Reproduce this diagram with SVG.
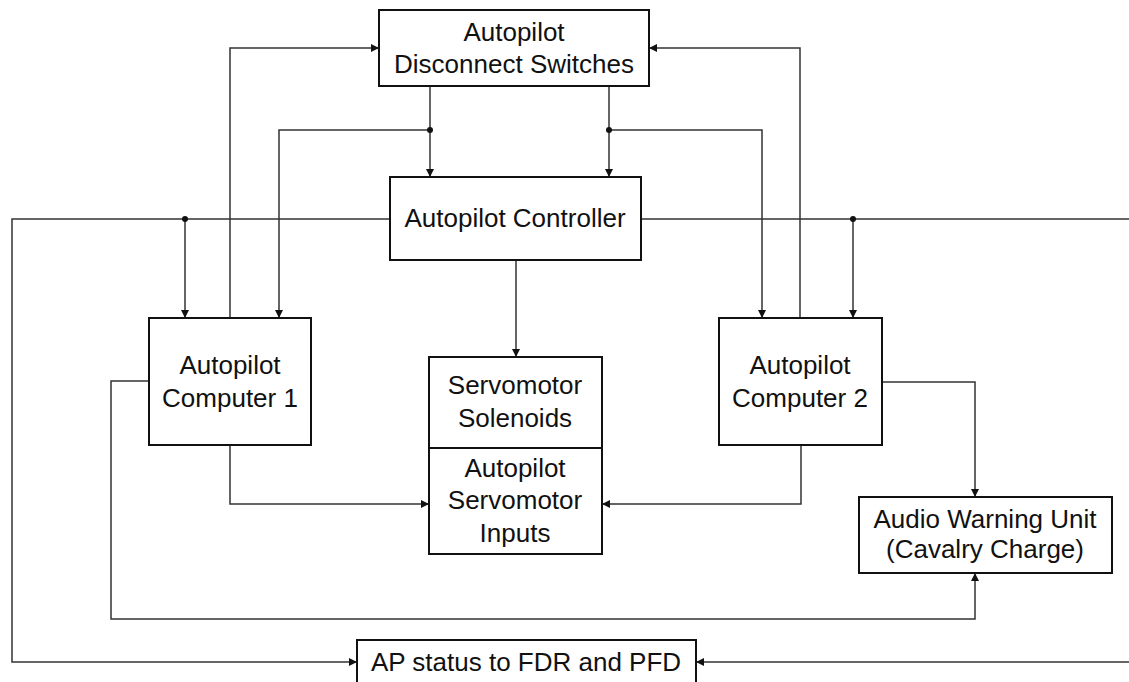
<svg xmlns="http://www.w3.org/2000/svg" width="1129" height="682" viewBox="0 0 1129 682">
<style>
.box{fill:#fff;stroke:#111;stroke-width:2}
.t{font-family:"Liberation Sans",Arial,sans-serif;font-size:26px;fill:#111;text-anchor:middle}
.c{fill:none;stroke:#333;stroke-width:1.5}
.dot{fill:#111}
</style>
<defs>
<marker id="ah" viewBox="0 0 10 10" refX="10" refY="5" markerWidth="8" markerHeight="8" markerUnits="userSpaceOnUse" orient="auto">
<path d="M0,0 L10,5 L0,10 z" fill="#111"/>
</marker>
</defs>
<rect width="1129" height="682" fill="#fff"/>
<g id="connectors">
<path class="c" d="M230,318 V48 H379" marker-end="url(#ah)"/>
<path class="c" d="M800,318 V48 H649" marker-end="url(#ah)"/>
<path class="c" d="M430,86 V177" marker-end="url(#ah)"/>
<path class="c" d="M430,130 H279 V318" marker-end="url(#ah)"/>
<path class="c" d="M609,86 V177" marker-end="url(#ah)"/>
<path class="c" d="M609,130 H762 V318" marker-end="url(#ah)"/>
<path class="c" d="M390,219 H12 V662 H357" marker-end="url(#ah)"/>
<path class="c" d="M185,219 V318" marker-end="url(#ah)"/>
<path class="c" d="M641,219 H1140 V662 H696" marker-end="url(#ah)"/>
<path class="c" d="M853,219 V318" marker-end="url(#ah)"/>
<path class="c" d="M516,260 V357" marker-end="url(#ah)"/>
<path class="c" d="M230,445 V504 H429" marker-end="url(#ah)"/>
<path class="c" d="M801,445 V504 H602" marker-end="url(#ah)"/>
<path class="c" d="M882,382 H975 V497" marker-end="url(#ah)"/>
<path class="c" d="M149,381 H111 V619 H975 V573" marker-end="url(#ah)"/>
<circle class="dot" cx="430" cy="130" r="3"/>
<circle class="dot" cx="609" cy="130" r="3"/>
<circle class="dot" cx="185" cy="219" r="3"/>
<circle class="dot" cx="853" cy="219" r="3"/>
</g>
<g id="disconnect">
<rect class="box" x="379" y="10" width="270" height="76"/>
<text class="t" x="514" y="41">Autopilot</text>
<text class="t" x="514" y="73">Disconnect Switches</text>
</g>
<g id="controller">
<rect class="box" x="390" y="177" width="251" height="83"/>
<text class="t" x="515" y="227">Autopilot Controller</text>
</g>
<g id="computer1">
<rect class="box" x="149" y="318" width="162" height="127"/>
<text class="t" x="230" y="374">Autopilot</text>
<text class="t" x="230" y="407">Computer 1</text>
</g>
<g id="computer2">
<rect class="box" x="719" y="318" width="163" height="127"/>
<text class="t" x="800" y="374">Autopilot</text>
<text class="t" x="800" y="407">Computer 2</text>
</g>
<g id="solenoids">
<rect class="box" x="429" y="357" width="173" height="91"/>
<text class="t" x="515" y="394">Servomotor</text>
<text class="t" x="515" y="427">Solenoids</text>
</g>
<g id="servoinputs">
<rect class="box" x="429" y="448" width="173" height="106"/>
<text class="t" x="515" y="477">Autopilot</text>
<text class="t" x="515" y="509">Servomotor</text>
<text class="t" x="515" y="542">Inputs</text>
</g>
<g id="audio">
<rect class="box" x="859" y="497" width="253" height="76"/>
<text class="t" x="985" y="528">Audio Warning Unit</text>
<text class="t" x="985" y="558">(Cavalry Charge)</text>
</g>
<g id="apstatus">
<rect class="box" x="357" y="640" width="339" height="60"/>
<text class="t" x="526" y="671">AP status to FDR and PFD</text>
</g>
</svg>
